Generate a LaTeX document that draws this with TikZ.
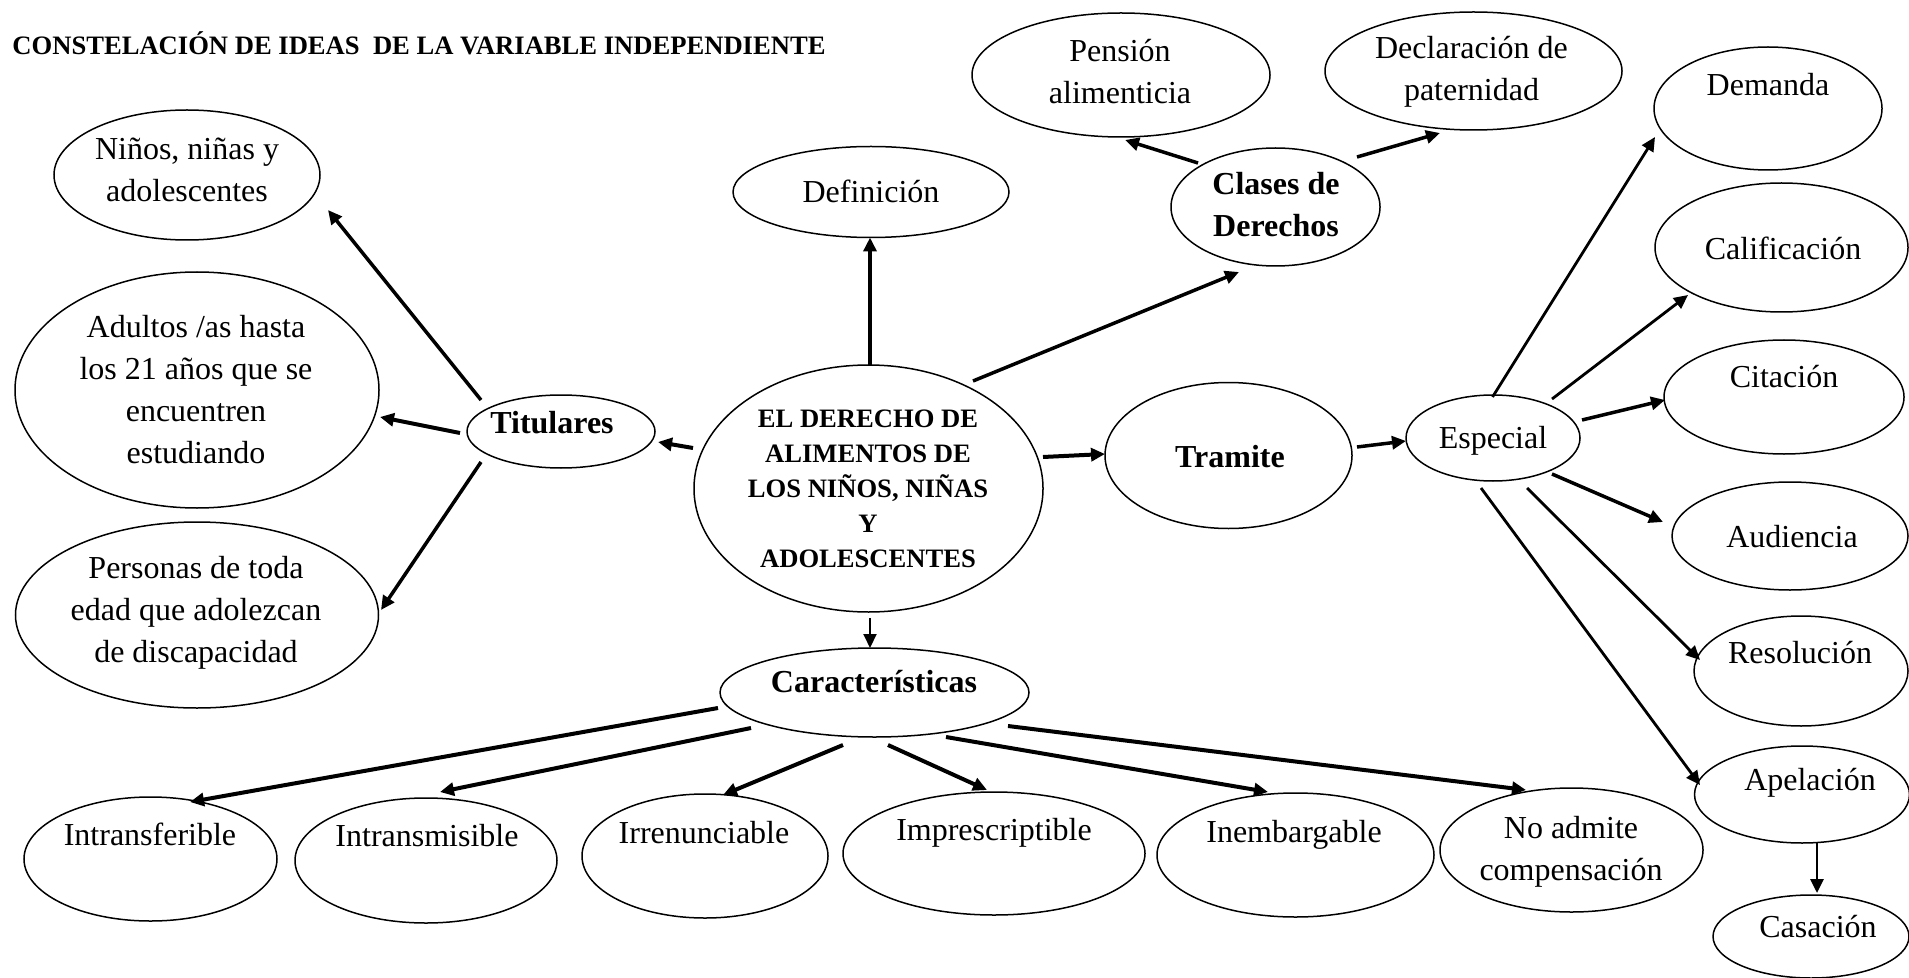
\documentclass[tikz,border=0pt]{standalone}
\usepackage{fontspec}
\setmainfont{Liberation Serif}
\usetikzlibrary{arrows.meta,shapes.geometric}
\newcommand{\ml}[1]{\begin{tabular}[t]{@{}c@{}}#1\end{tabular}}
\begin{document}
\begin{tikzpicture}[x=0.5pt,y=-0.5pt,
  ell/.style={draw, ellipse, line width=0.75pt, inner sep=0pt, outer sep=0pt},
  sz/.style 2 args={minimum width=#1*0.5pt, minimum height=#2*0.5pt},
  txt/.style={anchor=base, inner sep=0pt, font=\fontsize{16}{21}\selectfont},
  txtb/.style={anchor=base, inner sep=0pt, font=\fontsize{16}{21}\selectfont\bfseries},
  txtc/.style={anchor=base, inner sep=0pt, font=\fontsize{13.3}{17.6}\selectfont\bfseries},
  >={Triangle[length=7pt,width=6.5pt]},
  arA/.style={->, line width=1.75pt},
  arB/.style={->, line width=2pt},
  arM/.style={->, line width=1.4pt},
  arT/.style={->, line width=1pt}]
\path[use as bounding box, fill=white] (0,0) rectangle (1909,978);

\node[anchor=base west, inner sep=0pt, font=\fontsize{13.3}{16}\selectfont\bfseries] (title) at (12,55) {CONSTELACIÓN DE IDEAS~ DE LA VARIABLE INDEPENDIENTE};

% left side
\node[ell, sz={266}{130}] (nin) at (187,175) {};
\node[txt] (nin-t) at (187,160) {\ml{Niños, niñas y\\adolescentes}};
\node[ell, sz={364}{236}] (adu) at (197,390) {};
\node[txt] (adu-t) at (196,337) {\ml{Adultos /as hasta\\los 21 años que se\\encuentren\\estudiando}};
\node[ell, sz={363}{186}] (per) at (197,615) {};
\node[txt] (per-t) at (196,578) {\ml{Personas de toda\\edad que adolezcan\\de discapacidad}};
\node[ell, sz={188}{73}] (tit) at (561,431.5) {};
\node[txtb] (tit-t) at (552,433) {Titulares};

% centre
\node[ell, sz={276}{91}] (def) at (871,192) {};
\node[txt] (def-t) at (871,203) {Definición};
\node[ell, sz={349}{247}] (cen) at (868.5,488.5) {};
\node[txtc] (cen-t) at (868,427) {\ml{EL DERECHO DE\\ALIMENTOS DE\\LOS NIÑOS, NIÑAS\\Y\\ADOLESCENTES}};
\node[ell, sz={309}{89}] (car) at (874.5,692.5) {};
\node[txtb] (car-t) at (874,692) {Características};

% bottom row
\node[ell, sz={253}{124}] (itf) at (150.5,859) {};
\node[txt] (itf-t) at (150,845) {Intransferible};
\node[ell, sz={262}{125}] (itm) at (426,860.5) {};
\node[txt] (itm-t) at (427,846) {Intransmisible};
\node[ell, sz={246}{124}] (irr) at (705,856) {};
\node[txt] (irr-t) at (704,843) {Irrenunciable};
\node[ell, sz={302}{123}] (imp) at (994,853.5) {};
\node[txt] (imp-t) at (994,840) {Imprescriptible};
\node[ell, sz={277}{124}] (ine) at (1295.5,855) {};
\node[txt] (ine-t) at (1294,842) {Inembargable};
\node[ell, sz={263}{124}] (noa) at (1571.5,850) {};
\node[txt] (noa-t) at (1571,838) {\ml{No admite\\compensación}};

% top
\node[ell, sz={298}{124}] (pen) at (1121,75) {};
\node[txt] (pen-t) at (1120,62) {\ml{Pensión\\alimenticia}};
\node[ell, sz={297}{118}] (dec) at (1473.5,71) {};
\node[txt] (dec-t) at (1471.5,59) {\ml{Declaración de\\paternidad}};
\node[ell, sz={209}{118}] (cla) at (1275.5,207) {};
\node[txtb] (cla-t) at (1276,195) {\ml{Clases de\\Derechos}};

% right
\node[ell, sz={247}{146}] (tra) at (1228.5,455.5) {};
\node[txtb] (tra-t) at (1230,467) {Tramite};
\node[ell, sz={174}{86}] (esp) at (1493,438) {};
\node[txt] (esp-t) at (1493,448) {Especial};
\node[ell, sz={228}{123}] (dem) at (1768,108.5) {};
\node[txt] (dem-t) at (1768,96) {Demanda};
\node[ell, sz={253}{129}] (cal) at (1781.5,247.5) {};
\node[txt] (cal-t) at (1783,260) {Calificación};
\node[ell, sz={240}{114}] (cit) at (1784,397) {};
\node[txt] (cit-t) at (1784,387) {Citación};
\node[ell, sz={236}{108}] (aud) at (1790,536) {};
\node[txt] (aud-t) at (1792,547) {Audiencia};
\node[ell, sz={214}{110}] (res) at (1801,671) {};
\node[txt] (res-t) at (1800,663) {Resolución};
\node[ell, sz={215}{97}] (ape) at (1802,794.5) {};
\node[txt] (ape-t) at (1810,790) {Apelación};
\node[ell, sz={196}{83}] (cas) at (1811,936.5) {};
\node[txt] (cas-t) at (1818,937) {Casación};

% connectors
\draw[arA] ([shift={(-80,-31.5)}]tit.center) -- ([shift={(141,35)}]nin.center);
\draw[arB] ([shift={(-101,1.5)}]tit.center) -- ([shift={(183,27)}]adu.center);
\draw[arA] ([shift={(-80,30.5)}]tit.center) -- ([shift={(184,-5)}]per.center);
\draw[arB] ([shift={(-175.5,-40.5)}]cen.center) -- ([shift={(97,10.5)}]tit.center);
\draw[arA] ([shift={(1.5,-123.5)}]cen.center) -- ([shift={(-1,45.5)}]def.center);
\draw[arA] ([shift={(104.5,-107.5)}]cen.center) -- ([shift={(-36.5,65)}]cla.center);
\draw[arB] ([shift={(174.5,-31.5)}]cen.center) -- ([shift={(-123.5,-1.5)}]tra.center);
\draw[arT] ([shift={(1.5,129.5)}]cen.center) -- ([shift={(-4.5,-44.5)}]car.center);

\draw[arB] ([shift={(-156.5,15.5)}]car.center) -- ([shift={(39.5,-57)}]itf.center);
\draw[arB] ([shift={(-123.5,35.5)}]car.center) -- ([shift={(14,-68.5)}]itm.center);
\draw[arB] ([shift={(-31.5,52.5)}]car.center) -- ([shift={(18,-61)}]irr.center);
\draw[arB] ([shift={(13.5,52.5)}]car.center) -- ([shift={(-7,-63.5)}]imp.center);
\draw[arB] ([shift={(71.5,44.5)}]car.center) -- ([shift={(-27.5,-63)}]ine.center);
\draw[arB] ([shift={(133.5,33.5)}]car.center) -- ([shift={(-45.5,-60)}]noa.center);

\draw[arA] ([shift={(-77.5,-44)}]cla.center) -- ([shift={(4,65)}]pen.center);
\draw[arA] ([shift={(81.5,-50)}]cla.center) -- ([shift={(-33.5,62)}]dec.center);
\draw[arA] ([shift={(128.5,-8.5)}]tra.center) -- ([shift={(-87,3)}]esp.center);

\draw[arM] ([shift={(-0.5,-41)}]esp.center) -- ([shift={(-113,28.5)}]dem.center);
\draw[arM] ([shift={(59,-39)}]esp.center) -- ([shift={(-93.5,47.5)}]cal.center);
\draw[arA] ([shift={(89,-18)}]esp.center) -- ([shift={(-119,3)}]cit.center);
\draw[arA] ([shift={(59,36)}]esp.center) -- ([shift={(-127,-14)}]aud.center);
\draw[arM] ([shift={(34,50)}]esp.center) -- ([shift={(-101,-11)}]res.center);
\draw[arM] ([shift={(-12,50)}]esp.center) -- ([shift={(-102,-9.5)}]ape.center);
\draw[arM] ([shift={(15,48.5)}]ape.center) -- ([shift={(6,-43.5)}]cas.center);
\end{tikzpicture}
\end{document}
